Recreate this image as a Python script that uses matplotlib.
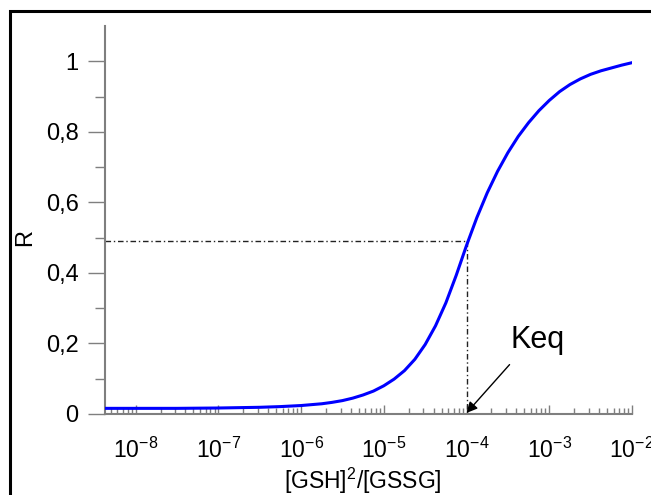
import numpy as np
import matplotlib.pyplot as plt
from matplotlib.patches import Rectangle
from matplotlib.ticker import LogLocator, FixedLocator, FixedFormatter, NullFormatter

plt.rcParams['font.family'] = ['Liberation Sans', 'DejaVu Sans']
plt.rcParams['mathtext.fontset'] = 'custom'
plt.rcParams['mathtext.rm'] = 'Liberation Sans'
plt.rcParams['mathtext.it'] = 'Liberation Sans'

# curve (log10 of [GSH]^2/[GSSG], R)
log_ratio = [-8.37, -8.0, -7.5, -7.0, -6.5, -6.25, -6.0, -5.75, -5.625, -5.5, -5.375,
             -5.25, -5.125, -5.0, -4.875, -4.75, -4.625, -4.5, -4.375, -4.25, -4.125,
             -4.0, -3.875, -3.75, -3.625, -3.5, -3.375, -3.25, -3.125, -3.0, -2.875,
             -2.75, -2.625, -2.5, -2.375, -2.25, -2.125, -2.0]
R_vals = [0.016, 0.016, 0.016, 0.017, 0.019, 0.021, 0.024, 0.029, 0.033, 0.038, 0.045,
          0.054, 0.065, 0.080, 0.099, 0.123, 0.155, 0.197, 0.250, 0.315, 0.393,
          0.478, 0.557, 0.627, 0.688, 0.741, 0.787, 0.826, 0.860, 0.889, 0.914,
          0.934, 0.950, 0.963, 0.973, 0.981, 0.989, 0.996]

keq = 1e-4
r_half = 0.49
decades = [-8, -7, -6, -5, -4, -3, -2]
y_ticks = [0, 0.2, 0.4, 0.6, 0.8, 1]
y_labels = ['0', '0,2', '0,4', '0,6', '0,8', '1']

gray = '#7f7f7f'

fig = plt.figure(figsize=(6.51, 4.95), dpi=100)
ax = fig.add_axes([105/651, 1-414/495, 527/651, 388/495])

x = 10.0 ** np.array(log_ratio)
ax.plot(x, R_vals, color='#0000ff', lw=2.2, solid_joinstyle='round', zorder=3)

# dash-dot guide lines to Keq
xmin = 10 ** -8.37
ax.plot([xmin, keq], [r_half, r_half], color='#222222', lw=1.0, dashes=(4, 2, 1, 2))
ax.plot([keq, keq], [r_half, 0], color='#222222', lw=1.0, dashes=(4, 2, 1, 2))

ax.annotate('', xy=(keq, 0.003), xytext=(10 ** -3.48, 0.14),
            arrowprops=dict(arrowstyle='-|>', color='black', lw=1.0, mutation_scale=16,
                            shrinkA=0, shrinkB=0))
ax.text(10 ** -3.47, 0.187, 'Keq', fontsize=22, ha='left', va='baseline')

ax.set_xscale('log')
ax.set_xlim(xmin, 10 ** -2)
ax.set_ylim(0, 1.1)

for s in ['top', 'right']:
    ax.spines[s].set_visible(False)
for s in ['left', 'bottom']:
    ax.spines[s].set_color(gray)
    ax.spines[s].set_linewidth(1.5)

ax.xaxis.set_major_locator(FixedLocator([10.0 ** d for d in decades]))
ax.xaxis.set_major_formatter(FixedFormatter(['$10^{%d}$' % d for d in decades]))
ax.xaxis.set_minor_locator(LogLocator(base=10, subs=np.arange(2, 10), numticks=20))
ax.xaxis.set_minor_formatter(NullFormatter())
ax.tick_params(axis='x', which='major', direction='in', length=6.5, width=1, color=gray,
               pad=17, labelsize=16.5)
ax.tick_params(axis='x', which='minor', direction='in', length=4, width=1, color=gray)

ax.set_yticks(y_ticks)
ax.set_yticklabels(y_labels)
ax.set_yticks([0.1, 0.3, 0.5, 0.7, 0.9], minor=True)
ax.tick_params(axis='y', which='major', direction='out', length=12, width=1, color=gray,
               pad=7, labelsize=17)
ax.tick_params(axis='y', which='minor', direction='out', length=7, width=1, color=gray)

fig.text(363/651, 1-481/495, '[GSH]$^{2}$/[GSSG]', fontsize=16.5, ha='center', va='center')
fig.text(25/651, 1-238/495, 'R', fontsize=17, rotation=90, ha='center', va='center')

# outer frame
fig.patches.append(Rectangle((9.5/651, -0.2), 1.0, 1.2 - 10.5/495, transform=fig.transFigure,
                             fill=False, edgecolor='black', lw=2.2))

fig.savefig('out.png', dpi=100)
